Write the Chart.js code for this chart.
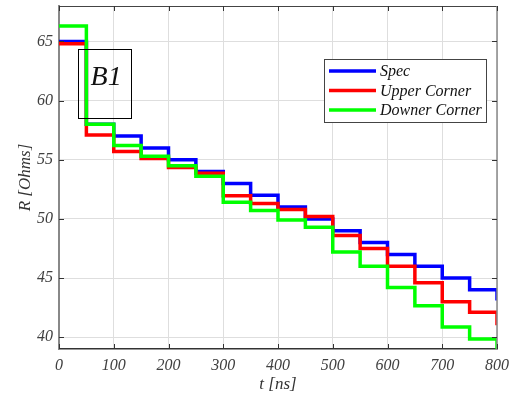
<!DOCTYPE html>
<html>
<head>
<meta charset="utf-8">
<script src="https://cdn.jsdelivr.net/npm/chart.js@4.4.1/dist/chart.umd.min.js"></script>
<style>
html,body{margin:0;padding:0;background:#fff;}
#wrap{width:516px;height:400px;}
</style>
</head>
<body>
<div id="wrap"><canvas id="c"></canvas></div>
<script>
// step edges, every 50 ns
const tValues = [0,50,100,150,200,250,300,350,400,450,500,550,600,650,700,750,800];
const specValues = [65,58,57,56,55,54,53,52,51,50,49,48,47,46,45,44,43.1];
const upperValues = [64.8,57.1,55.7,55.1,54.35,53.85,51.95,51.3,50.8,50.2,48.6,47.5,46,44.6,43,42.1,41];
const downerValues = [66.3,58,56.2,55.3,54.5,53.6,51.4,50.7,49.9,49.3,47.2,46,44.2,42.65,40.85,39.85,38.9];

const xTicks = [0,100,200,300,400,500,600,700,800];
const yTicks = [40,45,50,55,60,65];

// annotation box in data units
const boxLabel = "B1";
const boxX = [34,130];
const boxY = [58.55,64.4];

const serif = "'Liberation Serif','Times New Roman',serif";

function pts(vals){
  return tValues.map((t,i)=>({x:t,y:vals[i]}));
}

const frame = {
  id:"frame",
  afterDatasetsDraw(chart){
    const ctx = chart.ctx;
    const a = chart.chartArea;
    const xs = chart.scales.x, ys = chart.scales.y;
    ctx.save();
    // top and right box lines
    ctx.lineWidth = 1.2;
    ctx.strokeStyle = "#444";
    ctx.beginPath();
    ctx.moveTo(a.left,a.top+0.5); ctx.lineTo(a.right,a.top+0.5);
    ctx.stroke();
    ctx.strokeStyle = "#888";
    ctx.lineWidth = 1.5;
    ctx.beginPath();
    ctx.moveTo(a.right,a.top); ctx.lineTo(a.right,a.bottom);
    ctx.stroke();
    // inward ticks
    ctx.lineWidth = 1;
    ctx.strokeStyle = "#333";
    ctx.beginPath();
    xTicks.forEach(v=>{
      const px = Math.round(xs.getPixelForValue(v))+0.5;
      ctx.moveTo(px,a.bottom); ctx.lineTo(px,a.bottom-5);
      ctx.moveTo(px,a.top); ctx.lineTo(px,a.top+5);
    });
    yTicks.forEach(v=>{
      const py = Math.round(ys.getPixelForValue(v))+0.5;
      ctx.moveTo(a.left,py); ctx.lineTo(a.left+5,py);
      ctx.moveTo(a.right,py); ctx.lineTo(a.right-5,py);
    });
    ctx.stroke();

    // B1 box
    const bx1 = xs.getPixelForValue(boxX[0]), bx2 = xs.getPixelForValue(boxX[1]);
    const by1 = ys.getPixelForValue(boxY[1]), by2 = ys.getPixelForValue(boxY[0]);
    ctx.strokeStyle = "#000";
    ctx.lineWidth = 1;
    ctx.strokeRect(Math.round(bx1)+0.5,Math.round(by1)+0.5,Math.round(bx2-bx1),Math.round(by2-by1));
    ctx.fillStyle = "#111";
    ctx.font = "italic 28px "+serif;
    ctx.textAlign = "left";
    ctx.textBaseline = "alphabetic";
    ctx.fillText(boxLabel,bx1+13,by1+36);
    ctx.restore();
  }
};

// legend drawn by hand so it can sit inside the plot
const boxLegend = {
  id:"boxLegend",
  afterDraw(chart){
    const ctx = chart.ctx;
    const x0 = 324, y0 = 59, w = 162, h = 63;
    ctx.save();
    ctx.fillStyle = "#fff";
    ctx.fillRect(x0,y0,w,h);
    ctx.strokeStyle = "#444";
    ctx.lineWidth = 1;
    ctx.strokeRect(x0+0.5,y0+0.5,w,h);
    ctx.font = "italic 16px "+serif;
    ctx.textBaseline = "middle";
    chart.data.datasets.forEach((ds,i)=>{
      const y = y0 + 12 + i*19.5;
      ctx.strokeStyle = ds.borderColor;
      ctx.lineWidth = 3.5;
      ctx.beginPath();
      ctx.moveTo(x0+5,y); ctx.lineTo(x0+52,y);
      ctx.stroke();
      ctx.fillStyle = "#111";
      ctx.fillText(ds.label,x0+56,y+1);
    });
    ctx.restore();
  }
};

new Chart(document.getElementById("c"),{
  type:"line",
  data:{
    datasets:[
      {label:"Spec",data:pts(specValues),borderColor:"#0000ff",order:3},
      {label:"Upper Corner",data:pts(upperValues),borderColor:"#ff0000",order:2},
      {label:"Downer Corner",data:pts(downerValues),borderColor:"#00ff00",order:1}
    ]
  },
  options:{
    responsive:true,
    maintainAspectRatio:false,
    animation:false,
    layout:{padding:{top:6,right:19,left:0,bottom:0}},
    elements:{
      line:{borderWidth:3.5,stepped:true,tension:0},
      point:{radius:0}
    },
    plugins:{legend:{display:false},tooltip:{enabled:false}},
    scales:{
      x:{
        type:"linear",min:0,max:800,
        afterBuildTicks:s=>{s.ticks = xTicks.map(v=>({value:v}));},
        afterFit:s=>{s.height = 51; s.paddingLeft = 0; s.paddingRight = 0;},
        grid:{color:"#dedede",drawTicks:false},
        border:{color:"#333",width:1.5},
        ticks:{padding:7,color:"#404040",font:{family:serif,style:"italic",size:16}},
        title:{display:true,text:"t [ns]",color:"#333",padding:{bottom:5},font:{family:serif,style:"italic",size:17}}
      },
      y:{
        min:39,max:68,
        afterBuildTicks:s=>{s.ticks = yTicks.map(v=>({value:v}));},
        afterFit:s=>{s.width = 59; s.paddingTop = 0; s.paddingBottom = 0;},
        grid:{color:"#dedede",drawTicks:false},
        border:{color:"#888",width:2},
        ticks:{padding:6,color:"#404040",font:{family:serif,style:"italic",size:16}},
        title:{display:true,text:"R [Ohms]",color:"#333",padding:{top:15},font:{family:serif,style:"italic",size:17}}
      }
    }
  },
  plugins:[frame,boxLegend]
});
</script>
</body>
</html>
